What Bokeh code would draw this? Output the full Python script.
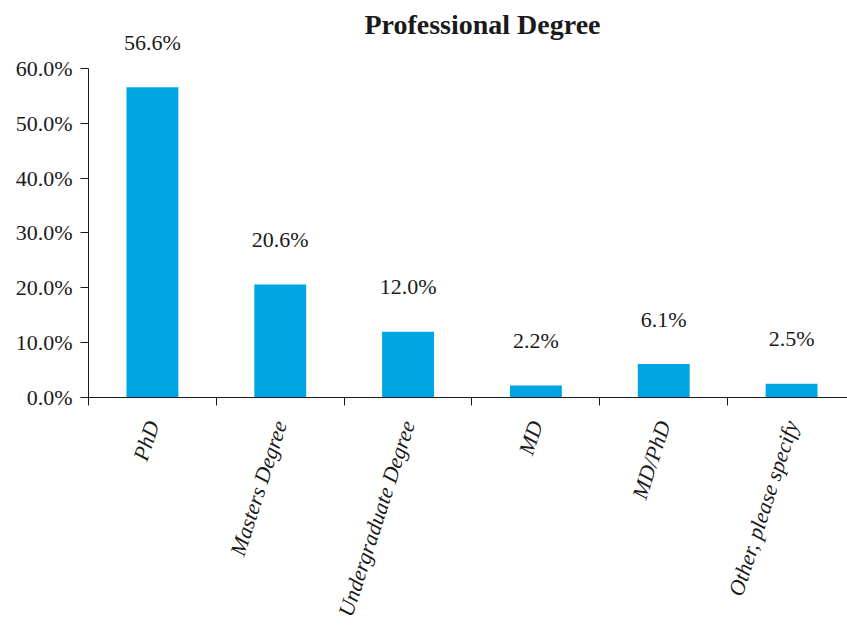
from bokeh.plotting import figure
from bokeh.models import (ColumnDataSource, Range1d, LinearAxis, FixedTicker,
                          PrintfTickFormatter, Label)
from bokeh.core.properties import value
from bokeh.embed import file_html
from bokeh.resources import INLINE
import math

title_text = "Professional Degree"
categories = ["PhD", "Masters Degree", "Undergraduate Degree", "MD", "MD/PhD", "Other, please specify"]
percents = [56.6, 20.6, 12.0, 2.2, 6.1, 2.5]
y_ticks = [0, 10, 20, 30, 40, 50, 60]

FONT = "Liberation Serif"
BAR = "#00A5E3"
INK = "#1a1a1a"

positions = [i + 0.5 for i in range(len(categories))]
src = ColumnDataSource(dict(x=positions, top=percents,
                            lab=["%.1f%%" % v for v in percents]))

p = figure(width=847, height=627, output_backend="svg", toolbar_location=None,
           x_range=Range1d(0, 5.9375), y_range=Range1d(0, 72.4),
           x_axis_type=None, y_axis_type=None,
           min_border_left=88, min_border_right=0, min_border_top=0,
           min_border_bottom=230)
p.outline_line_color = None
p.xgrid.visible = False
p.ygrid.visible = False
p.background_fill_color = "white"
p.border_fill_color = "white"

p.vbar(x="x", top="top", width=0.406, bottom=0, source=src,
       fill_color=BAR, line_color=None)

p.text(x="x", y="top", text="lab", source=src, y_offset=-45,
       text_align="center", text_baseline="middle",
       text_font=value(FONT), text_font_size="22px", text_color=INK)

# y axis
yax = LinearAxis(bounds=(0, 60), ticker=FixedTicker(ticks=y_ticks, minor_ticks=[]),
                 formatter=PrintfTickFormatter(format="%.1f%%"))
yax.axis_line_color = INK
yax.major_tick_line_color = INK
yax.major_tick_out = 8
yax.major_tick_in = 0
yax.minor_tick_line_color = None
yax.major_label_text_font = FONT
yax.major_label_text_font_size = "22px"
yax.major_label_text_color = INK
yax.major_label_standoff = 8
p.add_layout(yax, "left")

# x axis: labels at category centres, tick marks at boundaries
xax = LinearAxis(ticker=FixedTicker(ticks=positions,
                                    minor_ticks=list(range(len(categories) + 1))),
                 major_label_overrides={pos: c for pos, c in zip(positions, categories)})
xax.axis_line_color = INK
xax.major_tick_line_color = None
xax.minor_tick_line_color = INK
xax.minor_tick_out = 8
xax.minor_tick_in = 0
xax.major_label_orientation = math.radians(72)
xax.major_label_text_font = FONT
xax.major_label_text_font_style = "italic"
xax.major_label_text_font_size = "22px"
xax.major_label_text_color = INK
xax.major_label_standoff = 16
p.add_layout(xax, "below")

p.add_layout(Label(x=3.082, y=68.0, text=title_text, text_align="center",
                   text_baseline="middle", text_font=FONT, text_font_style="bold",
                   text_font_size="28px", text_color=INK))

open("out.html", "w").write(file_html(p, INLINE))
